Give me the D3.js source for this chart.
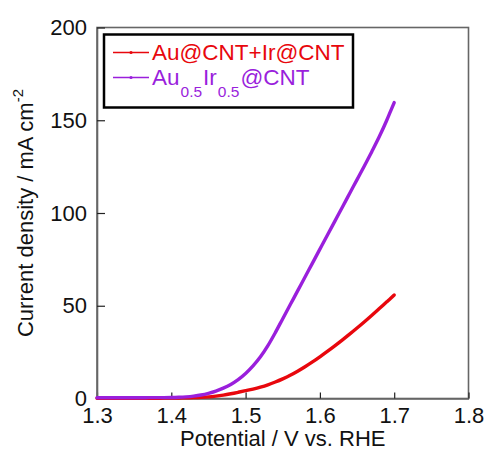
<!DOCTYPE html>
<html><head><meta charset="utf-8">
<script src="https://cdn.jsdelivr.net/npm/d3@7/dist/d3.min.js"></script>
<style>body{margin:0;background:#fff}svg{display:block;font-family:Arial,"Liberation Sans",sans-serif}</style>
</head><body><div id="chart"></div>
<script>
const potential = [1.30,1.31,1.32,1.33,1.34,1.35,1.36,1.37,1.38,1.39,1.40,1.41,1.42,1.43,1.44,1.45,1.46,1.47,1.48,1.49,1.50,1.51,1.52,1.53,1.54,1.55,1.56,1.57,1.58,1.59,1.60,1.61,1.62,1.63,1.64,1.65,1.66,1.67,1.68,1.69,1.695,1.70];
const mixCurrent = [0.1,0.1,0.1,0.1,0.1,0.1,0.15,0.15,0.15,0.2,0.2,0.3,0.4,0.5,0.65,0.9,1.3,1.85,2.55,3.35,4.2,5.1,6.15,7.4,8.9,10.6,12.5,14.7,17.1,19.7,22.5,25.4,28.4,31.5,34.7,38.0,41.4,44.9,48.5,52.1,53.9,55.8];
const alloyCurrent = [0.4,0.4,0.4,0.4,0.4,0.4,0.4,0.45,0.45,0.45,0.5,0.65,0.9,1.3,1.9,2.8,4.0,5.6,7.6,10.2,13.5,17.6,22.5,28.5,35.5,43.0,50.5,58.0,65.5,73.0,80.5,88.0,95.5,103.0,110.5,118.0,125.5,133.2,141.2,150.0,154.8,159.5];
const xTicks = [1.3,1.4,1.5,1.6,1.7,1.8];
const yTicks = [0,50,100,150,200];
const seriesNames = ["Au@CNT+Ir@CNT","Au0.5Ir0.5@CNT"];
const seriesColors = ["#e8070d","#9a1fdc"];

const W = 486, H = 451;
const m = {left:97, right:17.5, top:27.5, bottom:52.5};
const svg = d3.select("#chart").append("svg").attr("width",W).attr("height",H);
const x = d3.scaleLinear().domain([1.3,1.8]).range([m.left, W-m.right]);
const y = d3.scaleLinear().domain([0,200]).range([H-m.bottom, m.top]);

// frame
svg.append("rect").attr("x",x(1.3)).attr("y",y(200)).attr("width",x(1.8)-x(1.3)).attr("height",y(0)-y(200))
  .attr("fill","none").attr("stroke","#666").attr("stroke-width",1.6);

const xAxis = svg.append("g").attr("transform",`translate(0,${y(0)})`)
  .call(d3.axisBottom(x).tickValues(xTicks).tickFormat(d3.format(".1f")).tickSizeInner(-6).tickSizeOuter(0).tickPadding(9));
const yAxis = svg.append("g").attr("transform",`translate(${x(1.3)},0)`)
  .call(d3.axisLeft(y).tickValues(yTicks).tickSizeInner(-8).tickSizeOuter(0).tickPadding(10));
[xAxis,yAxis].forEach(g=>{
  g.select(".domain").attr("stroke","#666").attr("stroke-width",1.6);
  g.selectAll(".tick line").attr("stroke","#222").attr("stroke-width",1.2);
  g.selectAll(".tick text").attr("font-size",22).attr("fill","#111").attr("font-family","Arial, 'Liberation Sans', sans-serif");
});
xAxis.selectAll(".tick text").attr("dy","0.71em");

// curves
const line = d3.line().x(d=>x(d[0])).y(d=>y(d[1])).curve(d3.curveMonotoneX);
[mixCurrent, alloyCurrent].forEach((vals,i)=>{
  svg.append("path").datum(potential.map((p,j)=>[p,vals[j]]))
    .attr("d",line).attr("fill","none").attr("stroke",seriesColors[i])
    .attr("stroke-width",3.4).attr("stroke-linejoin","round").attr("stroke-linecap","round");
});

// axis labels
svg.append("text").attr("x",(x(1.3)+x(1.8))/2).attr("y",446).attr("text-anchor","middle")
  .attr("font-size",22).attr("fill","#111").text("Potential / V vs. RHE");
const yl = svg.append("text").attr("transform",`translate(33,${(y(0)+y(200))/2}) rotate(-90)`)
  .attr("text-anchor","middle").attr("font-size",22).attr("fill","#111");
yl.append("tspan").text("Current density / mA cm");
yl.append("tspan").attr("font-size",15).attr("dy",-10).text("-2");

// legend
const lg = svg.append("g");
lg.append("rect").attr("x",104).attr("y",34.5).attr("width",249).attr("height",73)
  .attr("fill","#fff").attr("stroke","#000").attr("stroke-width",2.5);
const rowsY = [52.5,77.5];
rowsY.forEach((ry,i)=>{
  lg.append("line").attr("x1",113).attr("x2",149).attr("y1",ry).attr("y2",ry)
    .attr("stroke",seriesColors[i]).attr("stroke-width",1.5);
  lg.append("circle").attr("cx",131).attr("cy",ry).attr("r",1.6).attr("fill",seriesColors[i]);
});
lg.append("text").attr("x",152).attr("y",59.5).attr("font-size",22.5).attr("fill",seriesColors[0]).text(seriesNames[0]);
const t2 = lg.append("text").attr("x",152).attr("y",85).attr("font-size",22.5).attr("fill",seriesColors[1]);
t2.append("tspan").text("Au");
t2.append("tspan").attr("font-size",15.5).attr("dy",12).attr("dx",1).text("0.5");
t2.append("tspan").attr("dy",-12).attr("dx",1).text("Ir");
t2.append("tspan").attr("font-size",15.5).attr("dy",12).attr("dx",1).text("0.5");
t2.append("tspan").attr("dy",-12).attr("dx",1).text("@CNT");
</script></body></html>
